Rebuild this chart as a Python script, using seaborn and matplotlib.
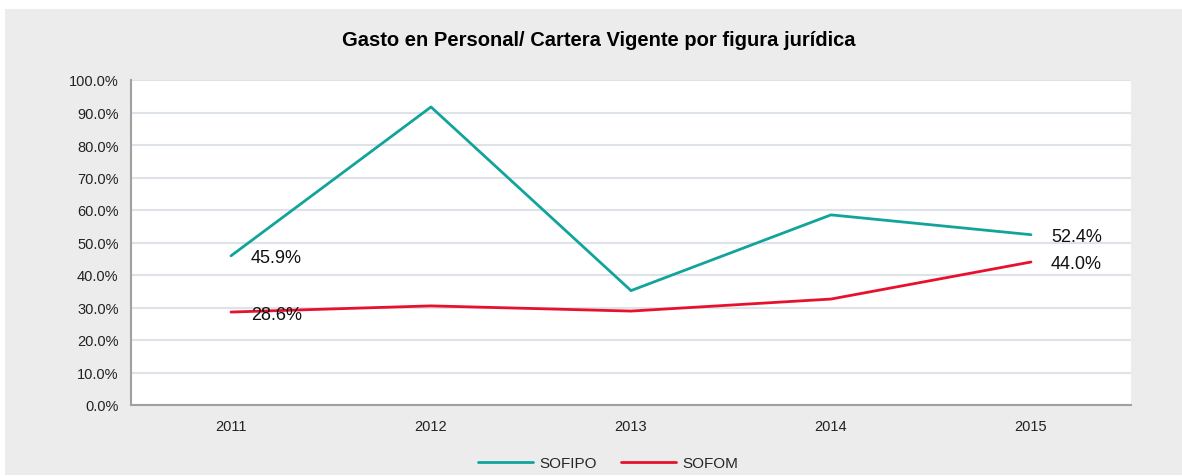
import seaborn as sns
import matplotlib.pyplot as plt
import matplotlib.patches as mpatches
import pandas as pd

# datos
years = ['2011', '2012', '2013', '2014', '2015']
sofipo = [45.9, 91.7, 35.2, 58.5, 52.4]
sofom = [28.6, 30.5, 28.9, 32.6, 44.0]

df = pd.DataFrame({'year': years * 2,
                   'value': sofipo + sofom,
                   'figura': ['SOFIPO'] * 5 + ['SOFOM'] * 5})

sns.set_style('white')
plt.rcParams['font.family'] = ['Liberation Sans', 'DejaVu Sans']

fig = plt.figure(figsize=(11.82, 4.77), dpi=100, facecolor='white')
# panel gris de fondo
fig.patches.append(mpatches.Rectangle((5 / 1182, 1 / 477), 1177 / 1182, 466 / 477,
                                      transform=fig.transFigure, facecolor='#ececec',
                                      edgecolor='none', zorder=-10))
ax = fig.add_axes([131 / 1182, 1 - 406 / 477, 1000 / 1182, 325 / 477])
ax.set_facecolor('white')

palette = {'SOFIPO': '#12a49b', 'SOFOM': '#e8112d'}
sns.lineplot(data=df, x='year', y='value', hue='figura', palette=palette,
             linewidth=2, ax=ax, sort=False)

ax.set_xlim(-0.5, 4.5)
ax.set_ylim(0, 100)
ax.set_yticks(range(0, 101, 10))
ax.set_yticklabels([f'{v:.1f}%' for v in range(0, 101, 10)], fontsize=10.5, color='#222222')
ax.set_xticks(range(5))
ax.set_xticklabels(years, fontsize=10.5, color='#222222')
ax.set_xticks([i - 0.5 for i in range(6)], minor=True)
ax.tick_params(axis='x', which='major', length=0, pad=10)
ax.tick_params(axis='x', which='minor', length=5, color='#a0a0a0', width=1.5)
ax.tick_params(axis='y', length=5, color='#a0a0a0', width=1.5, pad=4)
ax.yaxis.grid(True, color='#dde3e8', linewidth=1.5)
ax.set_axisbelow(True)
for s in ['top', 'right']:
    ax.spines[s].set_visible(False)
for s in ['left', 'bottom']:
    ax.spines[s].set_color('#a0a0a0')
    ax.spines[s].set_linewidth(1.5)
ax.set_xlabel('')
ax.set_ylabel('')

# etiquetas de datos
for i, vals in [(0, sofipo), (0, sofom), (4, sofipo), (4, sofom)]:
    ax.annotate(f'{vals[i]:.1f}%', (i, vals[i]), xytext=(20, -2), textcoords='offset pixels',
                fontsize=13, va='center', ha='left', color='#111111')

fig.text(599 / 1182, 1 - 40 / 477, 'Gasto en Personal/ Cartera Vigente por figura jurídica',
         fontsize=14.5, fontweight='bold', ha='center', va='center', color='black')

ax.legend(loc='center', bbox_to_anchor=(608 / 1182, 1 - 464 / 477), bbox_transform=fig.transFigure,
          ncol=2, frameon=False, fontsize=11, handlelength=3.6, columnspacing=1.6, handletextpad=0.4)

plt.savefig('out.png', dpi=100, facecolor='white')
